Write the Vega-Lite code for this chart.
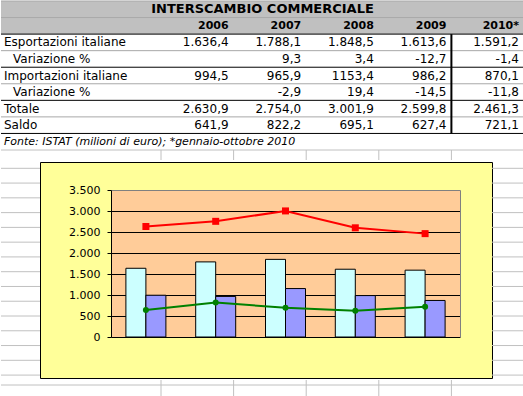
{
  "$schema": "https://vega.github.io/schema/vega-lite/v6.json",
  "padding": 0,
  "background": "white",
  "spacing": 0,
  "bounds": "full",
  "resolve": {"scale": {"color": "independent"}},
  "config": {
    "font": "DejaVu Sans",
    "view": {"stroke": null},
    "text": {"color": "black"}
  },
  "datasets": {
    "valori": [
      {"anno": "2006", "Esportazioni italiane": 1636.4, "Importazioni italiane": 994.5, "Totale": 2630.9, "Saldo": 641.9},
      {"anno": "2007", "Esportazioni italiane": 1788.1, "Importazioni italiane": 965.9, "Totale": 2754.0, "Saldo": 822.2},
      {"anno": "2008", "Esportazioni italiane": 1848.5, "Importazioni italiane": 1153.4, "Totale": 3001.9, "Saldo": 695.1},
      {"anno": "2009", "Esportazioni italiane": 1613.6, "Importazioni italiane": 986.2, "Totale": 2599.8, "Saldo": 627.4},
      {"anno": "2010", "Esportazioni italiane": 1591.2, "Importazioni italiane": 870.1, "Totale": 2461.3, "Saldo": 721.1}
    ],
    "tabella": [
      {"riga": "1", "voce": "Esportazioni italiane", "anno": "2006", "testo": "1.636,4"},
      {"riga": "1", "voce": "Esportazioni italiane", "anno": "2007", "testo": "1.788,1"},
      {"riga": "1", "voce": "Esportazioni italiane", "anno": "2008", "testo": "1.848,5"},
      {"riga": "1", "voce": "Esportazioni italiane", "anno": "2009", "testo": "1.613,6"},
      {"riga": "1", "voce": "Esportazioni italiane", "anno": "2010*", "testo": "1.591,2"},
      {"riga": "2", "voce": "Variazione %", "anno": "2007", "testo": "9,3"},
      {"riga": "2", "voce": "Variazione %", "anno": "2008", "testo": "3,4"},
      {"riga": "2", "voce": "Variazione %", "anno": "2009", "testo": "-12,7"},
      {"riga": "2", "voce": "Variazione %", "anno": "2010*", "testo": "-1,4"},
      {"riga": "3", "voce": "Importazioni italiane", "anno": "2006", "testo": "994,5"},
      {"riga": "3", "voce": "Importazioni italiane", "anno": "2007", "testo": "965,9"},
      {"riga": "3", "voce": "Importazioni italiane", "anno": "2008", "testo": "1153,4"},
      {"riga": "3", "voce": "Importazioni italiane", "anno": "2009", "testo": "986,2"},
      {"riga": "3", "voce": "Importazioni italiane", "anno": "2010*", "testo": "870,1"},
      {"riga": "4", "voce": "Variazione %", "anno": "2007", "testo": "-2,9"},
      {"riga": "4", "voce": "Variazione %", "anno": "2008", "testo": "19,4"},
      {"riga": "4", "voce": "Variazione %", "anno": "2009", "testo": "-14,5"},
      {"riga": "4", "voce": "Variazione %", "anno": "2010*", "testo": "-11,8"},
      {"riga": "5", "voce": "Totale", "anno": "2006", "testo": "2.630,9"},
      {"riga": "5", "voce": "Totale", "anno": "2007", "testo": "2.754,0"},
      {"riga": "5", "voce": "Totale", "anno": "2008", "testo": "3.001,9"},
      {"riga": "5", "voce": "Totale", "anno": "2009", "testo": "2.599,8"},
      {"riga": "5", "voce": "Totale", "anno": "2010*", "testo": "2.461,3"},
      {"riga": "6", "voce": "Saldo", "anno": "2006", "testo": "641,9"},
      {"riga": "6", "voce": "Saldo", "anno": "2007", "testo": "822,2"},
      {"riga": "6", "voce": "Saldo", "anno": "2008", "testo": "695,1"},
      {"riga": "6", "voce": "Saldo", "anno": "2009", "testo": "627,4"},
      {"riga": "6", "voce": "Saldo", "anno": "2010*", "testo": "721,1"}
    ],
    "righeFoglio": [
      {"r": 0}, {"r": 1}, {"r": 2}, {"r": 3}, {"r": 4}, {"r": 5}, {"r": 6}, {"r": 7},
      {"r": 8}, {"r": 9}, {"r": 10}, {"r": 11}, {"r": 12}, {"r": 13}, {"r": 14}
    ]
  },
  "vconcat": [
    {
      "width": 523,
      "height": 159,
      "layer": [
        {
          "data": {"values": [{"riga": "T"}, {"riga": "H"}]},
          "mark": {"type": "rect", "fill": "#c0c0c0"},
          "encoding": {
            "y": {
              "field": "riga", "type": "ordinal",
              "scale": {"type": "band", "domain": ["T", "H", "1", "2", "3", "4", "5", "6", "F"], "range": [0, 149], "paddingInner": 0, "paddingOuter": 0},
              "axis": null
            }
          }
        },
        {
          "data": {"values": [{"riga": "F"}]},
          "mark": {"type": "rect", "fill": "white"},
          "encoding": {"y": {"field": "riga", "type": "ordinal", "axis": null}}
        },
        {
          "data": {"values": [{"riga": "T"}, {"riga": "H"}, {"riga": "2"}, {"riga": "4"}, {"riga": "6"}]},
          "mark": {"type": "rule", "color": "#a8a8a8", "strokeWidth": 1},
          "encoding": {"y": {"field": "riga", "type": "ordinal", "bandPosition": 0, "axis": null}}
        },
        {
          "data": {"values": [{"riga": "F"}]},
          "mark": {"type": "rule", "color": "#c0c0c0", "strokeWidth": 1},
          "encoding": {"y": {"field": "riga", "type": "ordinal", "bandPosition": 1, "axis": null}}
        },
        {
          "data": {"values": [{"riga": "1"}, {"riga": "3"}, {"riga": "5"}, {"riga": "F"}]},
          "mark": {"type": "rule", "color": "black", "strokeWidth": 1},
          "encoding": {"y": {"field": "riga", "type": "ordinal", "bandPosition": 0, "axis": null}}
        },
        {
          "data": {"values": [{}]},
          "mark": {"type": "rule", "color": "black", "strokeWidth": 2},
          "encoding": {
            "x": {"datum": "2010*", "type": "ordinal", "bandPosition": 0, "axis": null},
            "y": {"datum": "1", "type": "ordinal", "bandPosition": 0, "axis": null},
            "y2": {"datum": "F", "bandPosition": 0}
          }
        },
        {
          "data": {"name": "tabella"},
          "transform": [{"aggregate": [{"op": "count", "as": "n"}], "groupby": ["anno"]}],
          "mark": {"type": "rule", "color": "#c0c0c0"},
          "encoding": {
            "x": {"field": "anno", "type": "ordinal", "bandPosition": 0, "axis": null},
            "y": {"datum": "F", "type": "ordinal", "bandPosition": 1, "axis": null},
            "y2": {"value": "height"}
          }
        },
        {
          "data": {"name": "tabella"},
          "mark": {"type": "text", "align": "right", "dx": -5, "fontSize": 12},
          "encoding": {
            "x": {
              "field": "anno", "type": "ordinal", "bandPosition": 1,
              "scale": {"type": "band", "domain": ["2006", "2007", "2008", "2009", "2010*"], "range": [160, 523], "paddingInner": 0, "paddingOuter": 0},
              "axis": {"grid": true, "gridColor": "#c0c0c0", "gridOpacity": 1, "labels": false, "ticks": false, "domain": false, "title": null, "tickBand": "extent"}
            },
            "y": {"field": "riga", "type": "ordinal", "axis": null},
            "text": {"field": "testo"}
          }
        },
        {
          "data": {"name": "tabella"},
          "transform": [
            {"aggregate": [{"op": "count", "as": "n"}], "groupby": ["riga", "voce"]},
            {"filter": "datum.voce !== 'Variazione %'"}
          ],
          "mark": {"type": "text", "align": "left", "dx": 3, "fontSize": 12},
          "encoding": {
            "x": {"value": 0},
            "y": {"field": "riga", "type": "ordinal", "axis": null},
            "text": {"field": "voce"}
          }
        },
        {
          "data": {"name": "tabella"},
          "transform": [
            {"aggregate": [{"op": "count", "as": "n"}], "groupby": ["riga", "voce"]},
            {"filter": "datum.voce === 'Variazione %'"}
          ],
          "mark": {"type": "text", "align": "left", "dx": 12, "fontSize": 12},
          "encoding": {
            "x": {"value": 0},
            "y": {"field": "riga", "type": "ordinal", "axis": null},
            "text": {"field": "voce"}
          }
        },
        {
          "data": {"name": "tabella"},
          "transform": [{"aggregate": [{"op": "count", "as": "n"}], "groupby": ["anno"]}],
          "mark": {"type": "text", "align": "right", "dx": -5, "fontSize": 11, "fontWeight": "bold"},
          "encoding": {
            "x": {"field": "anno", "type": "ordinal", "bandPosition": 1, "axis": null},
            "y": {"datum": "H", "type": "ordinal", "axis": null},
            "text": {"field": "anno"}
          }
        },
        {
          "data": {"values": [{"testo": "INTERSCAMBIO COMMERCIALE"}]},
          "mark": {"type": "text", "fontSize": 13, "fontWeight": "bold"},
          "encoding": {
            "y": {"datum": "T", "type": "ordinal", "axis": null},
            "text": {"field": "testo"}
          }
        },
        {
          "data": {"values": [{"testo": "Fonte: ISTAT (milioni di euro); *gennaio-ottobre 2010"}]},
          "mark": {"type": "text", "align": "left", "dx": 3, "fontSize": 11, "fontStyle": "italic"},
          "encoding": {
            "x": {"value": 0},
            "y": {"datum": "F", "type": "ordinal", "axis": null},
            "text": {"field": "testo"}
          }
        }
      ]
    },
    {
      "hconcat": [
        {
          "width": 39,
          "height": 216,
          "data": {"name": "righeFoglio"},
          "mark": {"type": "rule", "color": "#c0c0c0"},
          "encoding": {
            "y": {"field": "r", "type": "ordinal", "bandPosition": 0, "scale": {"type": "band", "range": [6.3, 227.85], "paddingInner": 0, "paddingOuter": 0}, "axis": null}
          }
        },
        {
          "width": 452,
          "height": 216,
          "view": {"fill": "#ffff99", "stroke": "black", "strokeWidth": 1},
          "data": {"name": "valori"},
          "resolve": {"axis": {"y": "independent"}},
          "layer": [
            {
              "transform": [{"fold": ["Esportazioni italiane", "Importazioni italiane"], "as": ["serie", "valore"]}],
              "mark": {"type": "bar", "stroke": "black", "strokeWidth": 1},
              "encoding": {
                "x": {
                  "field": "anno", "type": "ordinal",
                  "scale": {"type": "band", "domain": ["2006", "2007", "2008", "2009", "2010"], "range": [71, 420], "paddingInner": 0, "paddingOuter": 0},
                  "axis": null
                },
                "xOffset": {
                  "field": "serie", "type": "nominal",
                  "scale": {"domain": ["Esportazioni italiane", "Importazioni italiane"], "paddingInner": 0, "paddingOuter": 0.745}
                },
                "y": {
                  "field": "valore", "type": "quantitative",
                  "scale": {"domain": [0, 3500], "range": [175, 28], "nice": false, "zero": true},
                  "axis": {"orient": "left", "offset": -71, "values": [1750], "grid": true, "gridColor": "#ffcc99", "gridWidth": 147, "gridOpacity": 1, "labels": false, "ticks": false, "domain": false, "title": null}
                },
                "color": {
                  "field": "serie", "type": "nominal",
                  "scale": {"domain": ["Esportazioni italiane", "Importazioni italiane", "Totale", "Saldo"], "range": ["#ccffff", "#9999ff", "#ff0000", "#008000"]},
                  "legend": null
                }
              }
            },
            {
              "transform": [{"fold": ["Totale", "Saldo"], "as": ["serie", "valore"]}],
              "mark": {"type": "line", "strokeWidth": 2},
              "encoding": {
                "x": {
                  "field": "anno", "type": "ordinal",
                  "axis": {"orient": "bottom", "offset": -41, "tickBand": "extent", "tickSize": 4, "tickColor": "black", "domainColor": "black", "labelPadding": 4, "labelFontSize": 11, "labelColor": "black", "labelAngle": 0, "title": null, "grid": false, "zindex": 1}
                },
                "y": {
                  "field": "valore", "type": "quantitative",
                  "axis": {
                    "orient": "left", "offset": -71,
                    "values": [0, 500, 1000, 1500, 2000, 2500, 3000, 3500],
                    "labelExpr": "replace(format(datum.value, ','), ',', '.')",
                    "grid": true,
                    "gridColor": {"condition": {"test": "datum.value === 3500", "value": "#808080"}, "value": "black"},
                    "gridOpacity": 1,
                    "tickSize": 4, "tickColor": "black", "domainColor": "black",
                    "labelPadding": 7, "labelFontSize": 11, "labelColor": "black", "title": null
                  }
                },
                "color": {"field": "serie", "type": "nominal", "legend": null}
              }
            },
            {
              "transform": [
                {"fold": ["Totale", "Saldo"], "as": ["serie", "valore"]},
                {"filter": "datum.serie === 'Totale'"}
              ],
              "mark": {"type": "point", "filled": true, "opacity": 1, "shape": "square", "size": 49},
              "encoding": {
                "x": {"field": "anno", "type": "ordinal", "axis": null},
                "y": {
                  "field": "valore", "type": "quantitative",
                  "axis": {"orient": "right", "offset": -32, "grid": false, "labels": false, "ticks": false, "domain": true, "domainColor": "#808080", "title": null}
                },
                "color": {"field": "serie", "type": "nominal", "legend": null}
              }
            },
            {
              "transform": [
                {"fold": ["Totale", "Saldo"], "as": ["serie", "valore"]},
                {"filter": "datum.serie === 'Saldo'"}
              ],
              "mark": {"type": "point", "filled": true, "opacity": 1, "shape": "circle", "size": 36},
              "encoding": {
                "x": {"field": "anno", "type": "ordinal", "axis": null},
                "y": {"field": "valore", "type": "quantitative", "axis": null},
                "color": {"field": "serie", "type": "nominal", "legend": null}
              }
            },
            {
              "transform": [{"fold": ["Esportazioni italiane", "Importazioni italiane", "Totale", "Saldo"], "as": ["serie", "valore"]}],
              "mark": {"type": "point", "filled": true, "opacity": 0, "shape": "M-4,-0.75H4V0.75H-4Z"},
              "encoding": {
                "x": {"field": "anno", "type": "ordinal", "axis": null},
                "y": {"field": "valore", "type": "quantitative", "axis": null},
                "color": {
                  "field": "serie", "type": "nominal",
                  "legend": {
                    "orient": "none", "legendX": 132, "legendY": 182, "title": null,
                    "columns": 2, "direction": "horizontal",
                    "fillColor": "white", "strokeColor": "black", "padding": 3,
                    "rowPadding": 5, "columnPadding": 7,
                    "symbolType": "M-4,-0.75H4V0.75H-4Z",
                    "symbolSize": 64, "symbolOffset": 10.5, "labelOffset": 15,
                    "symbolStrokeWidth": 1, "symbolStrokeColor": "black", "symbolOpacity": 1,
                    "labelFontSize": 11, "labelColor": "black", "labelLimit": 200,
                    "cornerRadius": 0
                  }
                }
              }
            }
          ]
        },
        {
          "width": 32,
          "height": 216,
          "data": {"name": "righeFoglio"},
          "mark": {"type": "rule", "color": "#c0c0c0"},
          "encoding": {
            "y": {"field": "r", "type": "ordinal", "bandPosition": 0, "scale": {"type": "band", "range": [6.3, 227.85], "paddingInner": 0, "paddingOuter": 0}, "axis": null}
          }
        }
      ],
      "spacing": 0,
      "bounds": "flush",
      "resolve": {"scale": {"color": "independent"}}
    },
    {
      "width": 523,
      "height": 21,
      "layer": [
        {
          "data": {"values": [{"r": 0}, {"r": 1}]},
          "mark": {"type": "rule", "color": "#c0c0c0"},
          "encoding": {
            "y": {"field": "r", "type": "ordinal", "bandPosition": 0, "scale": {"type": "band", "range": [5, 35.6], "paddingInner": 0, "paddingOuter": 0}, "axis": null}
          }
        },
        {
          "data": {"name": "tabella"},
          "transform": [{"aggregate": [{"op": "count", "as": "n"}], "groupby": ["anno"]}],
          "mark": {"type": "rule", "color": "#c0c0c0"},
          "encoding": {
            "x": {
              "field": "anno", "type": "ordinal", "bandPosition": 0,
              "scale": {"type": "band", "domain": ["2006", "2007", "2008", "2009", "2010*"], "range": [160, 523], "paddingInner": 0, "paddingOuter": 0},
              "axis": null
            }
          }
        }
      ]
    }
  ]
}
